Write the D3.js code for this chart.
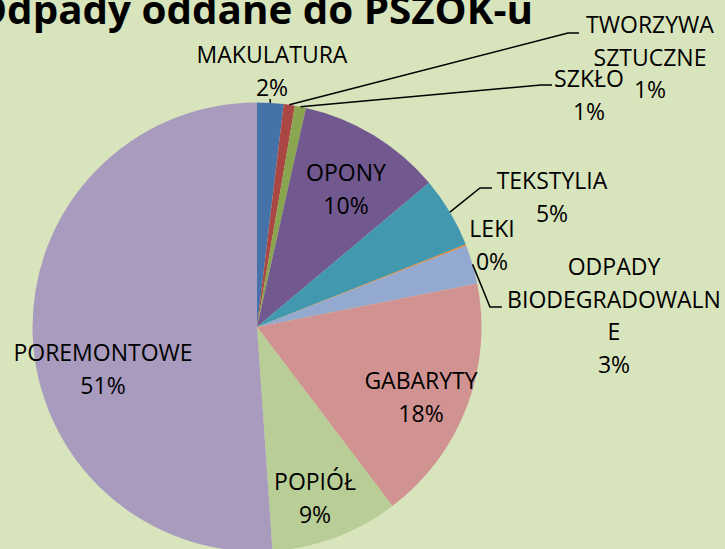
<!DOCTYPE html>
<html lang="pl">
<head>
<meta charset="UTF-8">
<title>Odpady oddane do PSZOK-u</title>
<style>
  body { margin: 0; background: #D8E4BC; }
  svg { display: block; }
  text { font-family: "Open Sans", "DejaVu Sans", sans-serif; fill: #000; }
</style>
</head>
<body>
<svg width="725" height="549"></svg>

<script src="https://cdn.jsdelivr.net/npm/d3@7/dist/d3.min.js"></script>
<script>
// dane (udział procentowy)
var categories = ["MAKULATURA", "TWORZYWA SZTUCZNE", "SZKŁO", "OPONY", "TEKSTYLIA",
                  "LEKI", "ODPADY BIODEGRADOWALNE", "GABARYTY", "POPIÓŁ", "POREMONTOWE"];
var values = [1.9, 0.8, 0.8, 10.4, 5.1, 0.1, 2.8, 17.8, 9.2, 51.1];
var colors = ["#4573A9", "#AA4643", "#8AA54F", "#71588F", "#4298AF",
              "#DB843D", "#94A9CF", "#D19392", "#B9CD97", "#A99BBD"];
// jak etykiety są łamane w wierszach
var labelLines = [["MAKULATURA"], ["TWORZYWA", "SZTUCZNE"], ["SZKŁO"], ["OPONY"], ["TEKSTYLIA"],
                  ["LEKI"], ["ODPADY", "BIODEGRADOWALN", "E"], ["GABARYTY"], ["POPIÓŁ"], ["POREMONTOWE"]];

// układ etykiet: środek tekstu i linia bazowa pierwszego wiersza
var labelAt = [[272, 63], [650, 33], [589, 87], [346, 181], [552, 189],
               [492, 237], [614, 275], [421, 389], [315, 490], [103, 361]];
// linie odniesienia: załamanie i koniec (null = brak)
var leaders = [[[270, 99]], [[568, 33], [579, 33]], [[541, 85], [552, 85]], null, [[480, 188], [492, 188]],
               null, [[490, 307], [502, 307]], null, null, null];

var cx = 257, cy = 327, radius = 224.5, lineH = 32.5;

var svg = d3.select("svg");

// tytuł (ucięty u góry jak w oryginale)
svg.append("text")
  .attr("x", 533).attr("y", 24)
  .attr("text-anchor", "end")
  .attr("font-size", 40).attr("font-weight", "bold")
  .attr("textLength", 558).attr("lengthAdjust", "spacingAndGlyphs")
  .text("Odpady oddane do PSZOK-u");

var total = d3.sum(values);
var pie = d3.pie().sort(null).value(function(d){ return d; });
var arcs = pie(values);
var arc = d3.arc().innerRadius(0).outerRadius(radius);

var g = svg.append("g").attr("transform", "translate(" + cx + "," + cy + ")");

g.selectAll("path")
  .data(arcs)
  .enter()
  .append("path")
  .attr("d", arc)
  .attr("fill", function(d, i){ return colors[i]; });

// linie odniesienia
arcs.forEach(function(a, i) {
  if (!leaders[i]) return;
  var mid = (a.startAngle + a.endAngle) / 2;
  var start = [cx + radius * Math.sin(mid), cy - radius * Math.cos(mid)];
  svg.append("polyline")
    .attr("points", [start].concat(leaders[i]).map(function(p){ return p.join(","); }).join(" "))
    .attr("fill", "none")
    .attr("stroke", "#000")
    .attr("stroke-width", 1.5);
});

// etykiety: nazwa + procent
var pct = function(v){ return Math.round(v / total * 100) + "%"; };
values.forEach(function(v, i) {
  var lines = labelLines[i].concat([pct(v)]);
  var t = svg.append("text")
    .attr("text-anchor", "middle")
    .attr("font-size", 23);
  lines.forEach(function(s, k) {
    t.append("tspan")
      .attr("x", labelAt[i][0])
      .attr("y", labelAt[i][1] + k * lineH)
      .text(s);
  });
});
</script>
</body>
</html>
